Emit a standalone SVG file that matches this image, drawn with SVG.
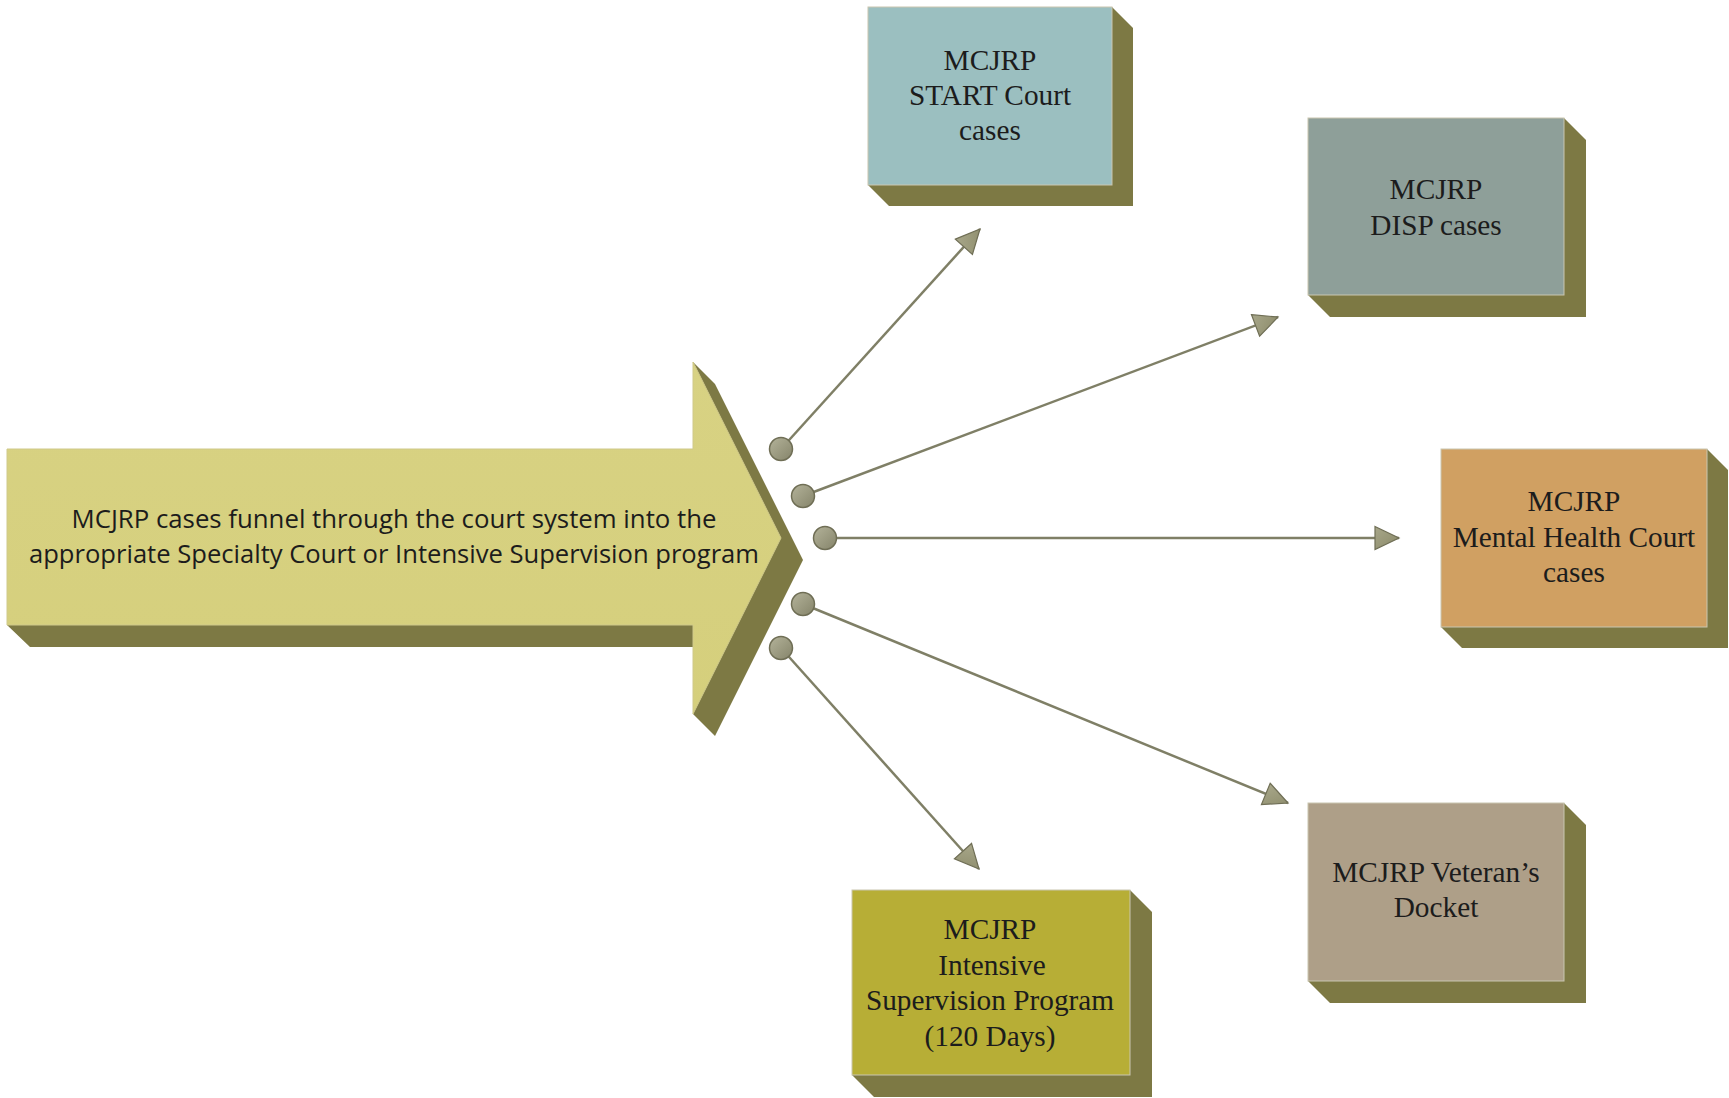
<svg xmlns="http://www.w3.org/2000/svg" width="1729" height="1098" viewBox="0 0 1729 1098">
<defs>
<style>
.shadow{fill:#7d7944}
.front{stroke:#c9c6b0;stroke-width:1}
.bt{font-family:"Liberation Serif","Times New Roman",serif;font-size:29.3px;fill:#1c1c1c;text-anchor:middle}
.at{font-family:"Open Sans","Liberation Sans",sans-serif;font-size:25px;fill:#1c1c1c;text-anchor:middle}
.conn{stroke:#7f7f66;stroke-width:2.5;fill:none;marker-end:url(#ah)}
.dot{fill:url(#dg);stroke:#6f6e55;stroke-width:1.5}
</style>
<linearGradient id="dg" x1="0" y1="0" x2="1" y2="1">
<stop offset="0" stop-color="#b4b39a"/>
<stop offset="1" stop-color="#85846a"/>
</linearGradient>
<linearGradient id="ag" x1="0" y1="0" x2="1" y2="1">
<stop offset="0" stop-color="#a8a78a"/>
<stop offset="1" stop-color="#8a8968"/>
</linearGradient>
<linearGradient id="arrowg" x1="0" y1="0" x2="0" y2="1">
<stop offset="0" stop-color="#d8d283"/>
<stop offset="1" stop-color="#d5cf7c"/>
</linearGradient>
<marker id="ah" markerUnits="userSpaceOnUse" markerWidth="28" markerHeight="28" refX="24" refY="12" orient="auto" viewBox="-2 0 28 24">
<path d="M0,0.5 L24,12 L0,23.5 Z" fill="url(#ag)" stroke="#6f6e55" stroke-width="1.2"/>
</marker>
</defs>
<rect width="1729" height="1098" fill="#ffffff"/>

<g id="main-arrow">
<polygon class="shadow" points="7,625 30,647 693,647 693,714 715,736 803,560 715,384 693,362 693,625"/>
<polygon points="7,449 693,449 693,362 781,538 693,714 693,625 7,625" fill="url(#arrowg)" stroke="#cfc98a" stroke-width="1"/>
<text class="at" x="394" y="528" textLength="645" lengthAdjust="spacingAndGlyphs">MCJRP cases funnel through the court system into the</text>
<text class="at" x="394" y="563" textLength="730" lengthAdjust="spacingAndGlyphs">appropriate Specialty Court or Intensive Supervision program</text>
</g>

<g id="connectors">
<line class="conn" x1="781" y1="449" x2="980" y2="229"/>
<line class="conn" x1="803" y1="496" x2="1278" y2="317"/>
<line class="conn" x1="825" y1="538" x2="1399" y2="538"/>
<line class="conn" x1="803" y1="604" x2="1288" y2="803"/>
<line class="conn" x1="781" y1="648" x2="979" y2="869"/>
<circle class="dot" cx="781" cy="449" r="11.5"/>
<circle class="dot" cx="803" cy="496" r="11.5"/>
<circle class="dot" cx="825" cy="538" r="11.5"/>
<circle class="dot" cx="803" cy="604" r="11.5"/>
<circle class="dot" cx="781" cy="648" r="11.5"/>
</g>

<g id="start-court">
<polygon class="shadow" points="1112,7 1133,28 1133,206 889,206 868,185 1112,185"/>
<rect class="front" x="868" y="7" width="244" height="178" fill="#9bbfc0"/>
<text class="bt" x="990" y="70">MCJRP</text>
<text class="bt" x="990" y="105">START Court</text>
<text class="bt" x="990" y="140">cases</text>
</g>

<g id="disp">
<polygon class="shadow" points="1564,118 1586,140 1586,317 1330,317 1308,295 1564,295"/>
<rect class="front" x="1308" y="118" width="256" height="177" fill="#8e9f99"/>
<text class="bt" x="1436" y="199">MCJRP</text>
<text class="bt" x="1436" y="235">DISP cases</text>
</g>

<g id="mental-health">
<polygon class="shadow" points="1707,449 1728,470 1728,648 1462,648 1441,627 1707,627"/>
<rect class="front" x="1441" y="449" width="266" height="178" fill="#d0a062"/>
<text class="bt" x="1574" y="511">MCJRP</text>
<text class="bt" x="1574" y="547">Mental Health Court</text>
<text class="bt" x="1574" y="582">cases</text>
</g>

<g id="veterans">
<polygon class="shadow" points="1564,803 1586,825 1586,1003 1330,1003 1308,981 1564,981"/>
<rect class="front" x="1308" y="803" width="256" height="178" fill="#ae9f88"/>
<text class="bt" x="1436" y="882">MCJRP Veteran’s</text>
<text class="bt" x="1436" y="917">Docket</text>
</g>

<g id="isp">
<polygon class="shadow" points="1130,890 1152,912 1152,1097 874,1097 852,1075 1130,1075"/>
<rect class="front" x="852" y="890" width="278" height="185" fill="#b7ae36"/>
<text class="bt" x="990" y="939">MCJRP</text>
<text class="bt" x="992" y="975">Intensive</text>
<text class="bt" x="990" y="1010">Supervision Program</text>
<text class="bt" x="990" y="1046">(120 Days)</text>
</g>
</svg>
